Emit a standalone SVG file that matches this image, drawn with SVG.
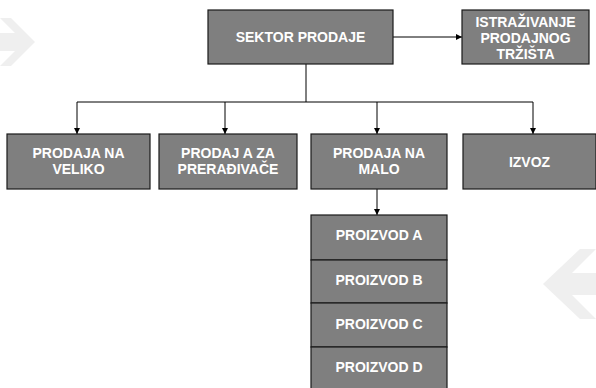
<svg xmlns="http://www.w3.org/2000/svg" width="596" height="388" viewBox="0 0 596 388">
<defs>
<style>
.box{fill:#7f7f7f;stroke:#1a1a1a;stroke-width:1.2}
.t{font-family:"Liberation Sans",Arial,sans-serif;font-weight:bold;font-size:14px;fill:#ffffff;text-anchor:middle}
.c{fill:none;stroke:#000000;stroke-width:1}
.bg{fill:#efefef}
</style>
<marker id="ah" viewBox="0 0 10 10" refX="10" refY="5" markerWidth="6" markerHeight="6" markerUnits="userSpaceOnUse" orient="auto">
<path d="M0,0 L10,5 L0,10 Z" fill="#000"/>
</marker>
</defs>
<rect width="596" height="388" fill="#ffffff"/>
<g id="background">
<polygon class="bg" points="35,42 11,18 0,18 15,33 0,33 0,51 15,51 0,66 11,66"/>
<polygon class="bg" points="543,284 580,249 596,249 572,273 596,273 596,295 572,295 596,319 580,319"/>
</g>
<g id="connectors">
<path class="c" d="M393,37 H462" marker-end="url(#ah)"/>
<path class="c" d="M306,64 V102"/>
<path class="c" d="M77,102 H533"/>
<path class="c" d="M77,102 V134" marker-end="url(#ah)"/>
<path class="c" d="M225,102 V134" marker-end="url(#ah)"/>
<path class="c" d="M377,102 V134" marker-end="url(#ah)"/>
<path class="c" d="M533,102 V134" marker-end="url(#ah)"/>
<path class="c" d="M377,189 V215" marker-end="url(#ah)"/>
</g>
<g id="sektor">
<rect class="box" x="208" y="10" width="185" height="54"/>
<text class="t" x="300.5" y="42">SEKTOR PRODAJE</text>
</g>
<g id="istrazivanje">
<rect class="box" x="462" y="10" width="127" height="54"/>
<text class="t" x="525.5" y="27">ISTRAŽIVANJE</text>
<text class="t" x="525.5" y="43">PRODAJNOG</text>
<text class="t" x="525.5" y="59">TRŽIŠTA</text>
</g>
<g id="veliko">
<rect class="box" x="7" y="134" width="143" height="55"/>
<text class="t" x="78.5" y="158">PRODAJA NA</text>
<text class="t" x="78.5" y="174">VELIKO</text>
</g>
<g id="preradjivace">
<rect class="box" x="159" y="134" width="138" height="55"/>
<text class="t" x="228" y="158">PRODAJ A ZA</text>
<text class="t" x="228" y="174">PRERAĐIVAČE</text>
</g>
<g id="malo">
<rect class="box" x="311" y="134" width="136" height="55"/>
<text class="t" x="379" y="158">PRODAJA NA</text>
<text class="t" x="379" y="174">MALO</text>
</g>
<g id="izvoz">
<rect class="box" x="463" y="134" width="133" height="55"/>
<text class="t" x="529.5" y="167">IZVOZ</text>
</g>
<g id="proizvod-a">
<rect class="box" x="311" y="215" width="136" height="45"/>
<text class="t" x="379" y="240">PROIZVOD A</text>
</g>
<g id="proizvod-b">
<rect class="box" x="311" y="260" width="136" height="43"/>
<text class="t" x="379" y="285">PROIZVOD B</text>
</g>
<g id="proizvod-c">
<rect class="box" x="311" y="303" width="136" height="44"/>
<text class="t" x="379" y="329">PROIZVOD C</text>
</g>
<g id="proizvod-d">
<rect class="box" x="311" y="347" width="136" height="46"/>
<text class="t" x="379" y="372">PROIZVOD D</text>
</g>
</svg>
